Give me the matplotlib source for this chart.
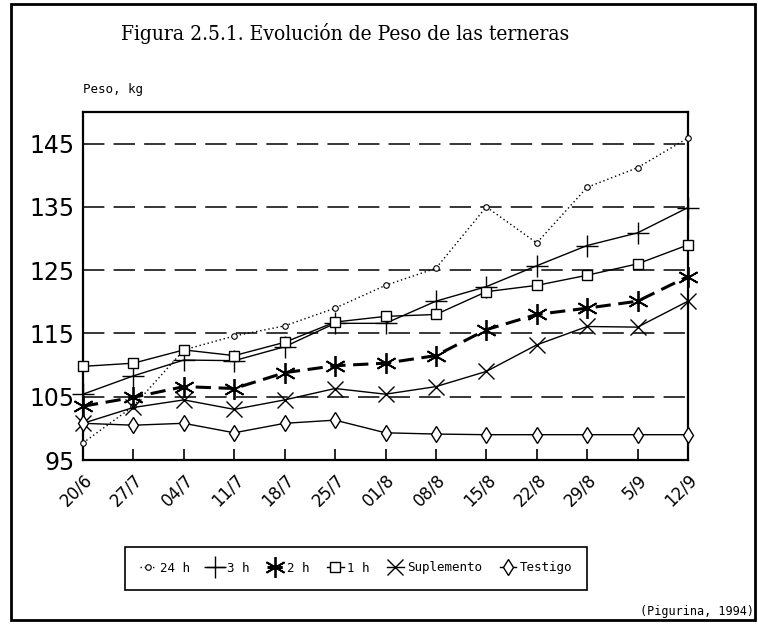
import numpy as np
import matplotlib
matplotlib.use("Agg")
import matplotlib.pyplot as plt

# Data
fechas = ["20/6", "27/7", "04/7", "11/7", "18/7", "25/7", "01/8",
          "08/8", "15/8", "22/8", "29/8", "5/9", "12/9"]
h24 = [97.7, 103.5, 112.4, 114.6, 116.2, 119.0, 122.6, 125.3, 135.0, 129.3, 138.1, 141.2, 145.9]
h3 = [105.4, 108.3, 110.8, 110.7, 112.9, 116.6, 116.6, 120.1, 122.4, 125.7, 128.9, 130.9, 134.9]
h2 = [103.5, 104.9, 106.6, 106.3, 108.8, 109.9, 110.3, 111.5, 115.6, 118.0, 119.0, 120.1, 124.0]
h1 = [109.8, 110.3, 112.4, 111.5, 113.6, 116.8, 117.7, 118.0, 121.6, 122.6, 124.2, 126.0, 129.0]
suplemento = [100.8, 103.3, 104.5, 103.0, 104.5, 106.3, 105.4, 106.6, 109.0, 113.2, 116.1, 116.0, 120.1]
testigo = [100.8, 100.5, 100.8, 99.3, 100.8, 101.3, 99.3, 99.1, 99.0, 99.0, 99.0, 99.0, 99.0]
yticks = [95, 105, 115, 125, 135, 145]

fig = plt.figure(figsize=(7.58, 6.25), dpi=100)
ax = fig.add_axes([83 / 758, 1 - 460 / 625, 605 / 758, 348 / 625])

x = np.arange(len(fechas))

# horizontal dashed grid lines
for v in yticks[1:]:
    ax.axhline(v, color="black", lw=1.1, dashes=(14, 6), zorder=1)

ax.plot(x, h24, color="black", lw=1.0, ls=(0, (1, 2)), marker="o", ms=4,
        mfc="white", mew=0.8, label="24 h", zorder=3, clip_on=False)
ax.plot(x, h3, color="black", lw=1.0, marker="+", ms=16, mew=1.0, label="3 h",
        zorder=3, clip_on=False)
ax.plot(x, h2, color="black", lw=2.2, ls=(0, (5, 2.5)), marker=(6, 2, 0), ms=15,
        mew=1.3, label="2 h", zorder=3, clip_on=False)
ax.plot(x, h1, color="black", lw=1.0, marker="s", ms=7, mfc="white", mew=1.0,
        label="1 h", zorder=4, clip_on=False)
ax.plot(x, suplemento, color="black", lw=1.0, marker="x", ms=12, mew=1.0,
        label="Suplemento", zorder=3, clip_on=False)
ax.plot(x, testigo, color="black", lw=1.0, marker="d", ms=8, mfc="white", mew=1.0,
        label="Testigo", zorder=3, clip_on=False)

ax.set_xlim(0, len(fechas) - 1)
ax.set_ylim(95, 150)
ax.set_yticks(yticks)
ax.set_yticklabels([str(v) for v in yticks], fontsize=17, family="DejaVu Sans")
ax.tick_params(axis="y", length=0, pad=6, labelcolor="black")
ax.set_xticks(x)
ax.set_xticklabels(fechas, rotation=45, ha="right", rotation_mode="anchor",
                   fontsize=12, family="DejaVu Sans")
ax.tick_params(axis="x", direction="in", length=8, width=1.2, pad=8, labelcolor="black")
for s in ax.spines.values():
    s.set_linewidth(1.6)

fig.text(345 / 758, 1 - 33 / 625, "Figura 2.5.1. Evolución de Peso de las terneras",
         ha="center", va="center", fontsize=15, family="DejaVu Serif",
         fontstretch="condensed")
fig.text(83 / 758, 1 - 89 / 625, "Peso, kg", ha="left", va="center",
         fontsize=9, family="DejaVu Sans Mono")
fig.text(754 / 758, 1 - 612 / 625, "(Pigurina, 1994)", ha="right", va="center",
         fontsize=8.5, family="DejaVu Sans Mono")

leg = fig.legend(loc="center", bbox_to_anchor=(356 / 758, 1 - 568 / 625), ncol=6,
                 prop={"family": "DejaVu Sans Mono", "size": 9},
                 handlelength=1.3, handletextpad=0.3, columnspacing=1.4,
                 borderpad=1.2, fancybox=False, edgecolor="black", framealpha=1)
leg.get_frame().set_linewidth(1.2)

# outer frame around the whole figure
fig.patches.append(plt.Rectangle((11 / 758, 1 - 620 / 625), 744 / 758, 616 / 625,
                                 transform=fig.transFigure, fill=False,
                                 edgecolor="black", lw=2))

fig.savefig("out.png", dpi=100)
